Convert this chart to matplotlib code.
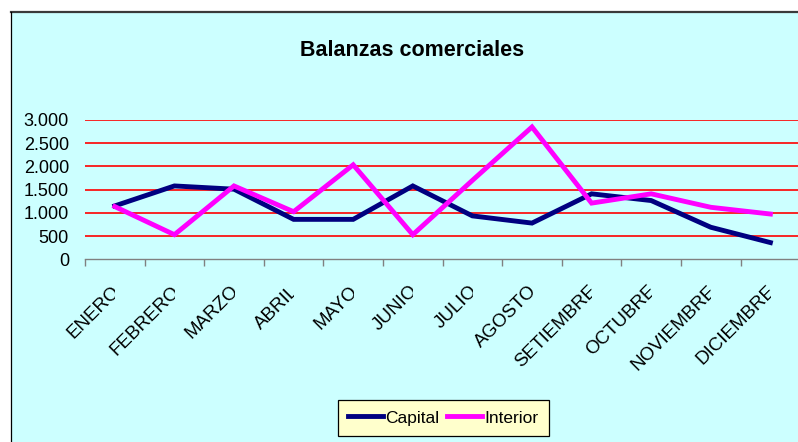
import matplotlib
matplotlib.use("Agg")
import matplotlib.pyplot as plt
import numpy as np
from matplotlib.lines import Line2D
from matplotlib.patches import Rectangle
from matplotlib.transforms import Bbox, ScaledTranslation

months = ["ENERO", "FEBRERO", "MARZO", "ABRIL", "MAYO", "JUNIO", "JULIO",
          "AGOSTO", "SETIEMBRE", "OCTUBRE", "NOVIEMBRE", "DICIEMBRE"]
capital = [1150, 1580, 1510, 860, 860, 1580, 935, 780, 1410, 1265, 690, 360]
interior = [1135, 530, 1580, 1025, 2035, 530, 1700, 2850, 1210, 1410, 1120, 975]
yticks = [0, 500, 1000, 1500, 2000, 2500, 3000]
ytick_labels = ["0", "500", "1.000", "1.500", "2.000", "2.500", "3.000"]
title = "Balanzas comerciales"

FONT = ["Liberation Sans", "DejaVu Sans"]

W, H = 798, 442
fig = plt.figure(figsize=(W / 100, H / 100), dpi=100)
fig.patch.set_facecolor("white")

# chart area background + border
fig.patches.append(Rectangle((10.5 / W, 0), 1, 1 - 12 / H, transform=fig.transFigure,
                             facecolor="#CCFFFF", edgecolor="none", zorder=-10))
fig.lines.append(Line2D([10.5 / W, 1], [1 - 12 / H, 1 - 12 / H], transform=fig.transFigure,
                        color="#3a3a3a", lw=1.6))
fig.lines.append(Line2D([10.5 / W, 10.5 / W], [0, 1 - 12 / H], transform=fig.transFigure,
                        color="black", lw=0.9))

ax = fig.add_axes([85 / W, (H - 259.3) / H, 715.2 / W, (259.3 - 120) / H])
ax.set_facecolor("none")

x = np.arange(len(months)) + 0.5
ax.plot(x, capital, color="#000080", lw=3.5, solid_joinstyle="miter", label="Capital", zorder=3)
ax.plot(x, interior, color="#FF00FF", lw=3.5, solid_joinstyle="miter", label="Interior", zorder=4)

ax.set_xlim(0, len(months))
ax.set_ylim(0, 3000)
ax.set_yticks(yticks)
ax.set_yticklabels(ytick_labels, family=FONT, fontsize=13)
ax.tick_params(axis="y", length=0, pad=11.5)
for v in yticks[1:]:
    ax.axhline(v, color="#FF0000", lw=1.2, zorder=1)

ax.set_xticks(x)
ax.set_xticklabels(months, rotation=45, ha="right", va="center", rotation_mode="anchor",
                   family=FONT, fontsize=13.5)
ax.tick_params(axis="x", length=0, pad=21)
ax.set_xticks(np.arange(len(months) + 1), minor=True)
ax.tick_params(axis="x", which="minor", length=5, color="#808080", width=1)

for s in ["top", "right", "left"]:
    ax.spines[s].set_visible(False)
ax.spines["bottom"].set_color("#808080")
ax.spines["bottom"].set_linewidth(1.0)

fig.text(412 / W, 1 - 56 / H, title, ha="center", va="baseline", family=FONT,
         fontsize=15.5, fontweight="bold")

leg = fig.legend(loc="upper left", bbox_to_anchor=(337.5 / W, 1 - 400 / H), ncol=2,
                 prop={"family": FONT, "size": 12.5}, frameon=True, fancybox=False,
                 borderaxespad=0, borderpad=0.6, handlelength=2.0, handletextpad=0.15,
                 columnspacing=0.45)
leg.get_frame().set_facecolor("#FFFFCC")
leg.get_frame().set_edgecolor("black")
leg.get_frame().set_linewidth(0.9)
leg.get_frame().set_alpha(1)
for ln in leg.get_lines():
    ln.set_linewidth(3.5)

# Excel-like clipping of rotated category labels at the category centre
fig.canvas.draw()
shift = ScaledTranslation(2.5 / 100, 0, fig.dpi_scale_trans)
for i, lbl in enumerate(ax.get_xticklabels()):
    cx = ax.transData.transform((x[i], 0))[0]
    lbl.set_transform(lbl.get_transform() + shift)
    lbl.set_clip_box(Bbox.from_extents(0, 0, cx + 0.5, H))
    lbl.set_clip_on(True)

fig.savefig("out.png", dpi=100, facecolor=fig.get_facecolor())
